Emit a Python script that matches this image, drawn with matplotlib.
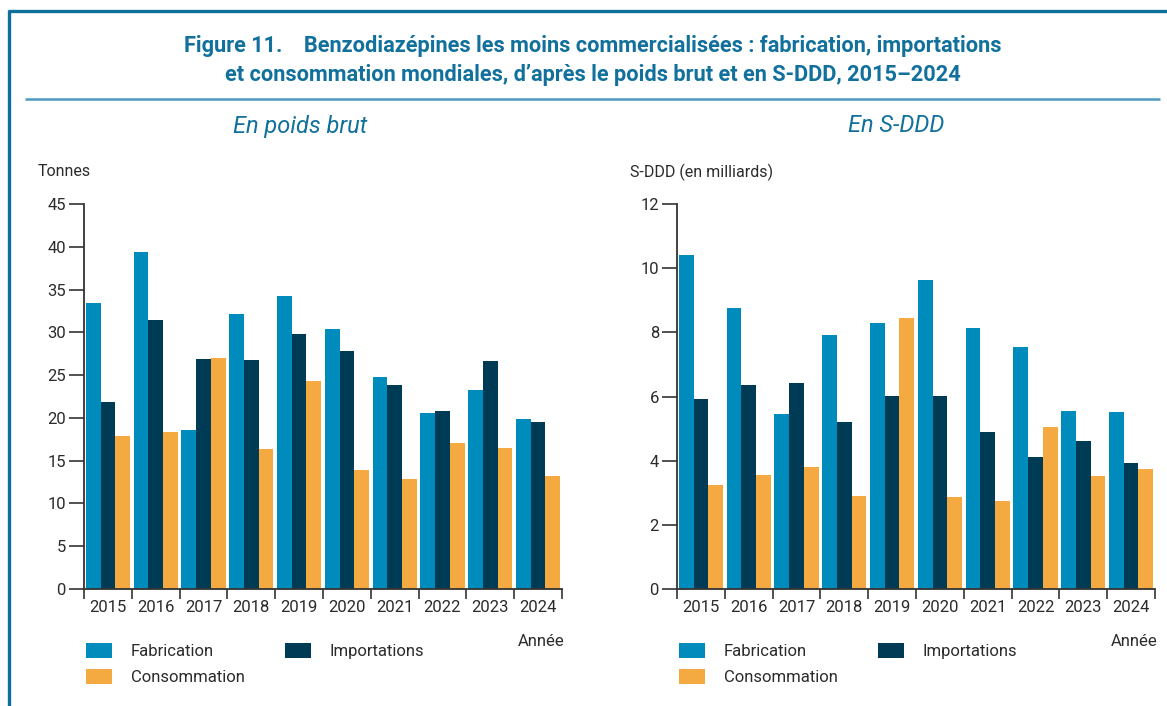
import numpy as np
import matplotlib
matplotlib.use("Agg")
import matplotlib.pyplot as plt
from matplotlib.lines import Line2D

plt.rcParams['font.family'] = ['Roboto', 'DejaVu Sans']

years = ['2015', '2016', '2017', '2018', '2019', '2020', '2021', '2022', '2023', '2024']
series_names = ['Fabrication', 'Importations', 'Consommation']
colors = ['#008bbd', '#003b56', '#f5a941']

# poids brut (tonnes)
fab_tonnes = [33.4, 39.4, 18.6, 32.2, 34.3, 30.4, 24.8, 20.6, 23.3, 19.9]
imp_tonnes = [21.9, 31.5, 26.9, 26.8, 29.8, 27.8, 23.9, 20.8, 26.7, 19.5]
cons_tonnes = [17.9, 18.3, 27.0, 16.4, 24.3, 13.9, 12.8, 17.1, 16.5, 13.2]

# S-DDD (milliards)
fab_sddd = [10.41, 8.76, 5.46, 7.92, 8.29, 9.63, 8.14, 7.55, 5.55, 5.52]
imp_sddd = [5.93, 6.36, 6.43, 5.21, 6.02, 6.02, 4.90, 4.12, 4.62, 3.93]
cons_sddd = [3.25, 3.56, 3.81, 2.91, 8.45, 2.88, 2.75, 5.06, 3.53, 3.75]

blue = '#12719c'
axis_col = '#333333'
text_col = '#2b2b2b'

fig = plt.figure(figsize=(11.67, 7.06), dpi=100)

# frame and title rule
fig.add_artist(Line2D([8 / 1167, 1], [1 - 10.5 / 706] * 2, color='#0e6f9b', lw=2.4,
                      solid_capstyle='butt'))
fig.add_artist(Line2D([8.5 / 1167] * 2, [0, 1 - 10 / 706], color='#0e6f9b', lw=2.4,
                      solid_capstyle='butt'))
fig.add_artist(Line2D([25 / 1167, 1160 / 1167], [1 - 99 / 706] * 2, color='#4b9bc2', lw=1.8,
                      solid_capstyle='butt'))

fig.text(593 / 1167, 1 - 46 / 706,
         "Figure 11.    Benzodiazépines les moins commercialisées : fabrication, importations",
         ha='center', va='center', fontsize=15.7, fontweight='bold', color=blue)
fig.text(593 / 1167, 1 - 75 / 706,
         "et consommation mondiales, d\u2019après le poids brut et en S-DDD, 2015\u20132024",
         ha='center', va='center', fontsize=15.7, fontweight='bold', color=blue)


def draw_panel(x0, vals, ymax, ystep, subtitle, sub_x, ylabel, ylabel_x):
    ax = fig.add_axes([x0 / 1167, 1 - 589 / 706, 478 / 1167, 385 / 706])
    x = np.arange(len(years))
    w = 0.307
    bars = []
    for i, (v, c) in enumerate(zip(vals, colors)):
        bars.append(ax.bar(x + (i - 1) * w, v, width=w, color=c, label=series_names[i], zorder=2))
    ax.set_xlim(-0.5, len(years) - 0.5)
    ax.set_ylim(0, ymax)
    ticks = np.arange(0, ymax + 0.01, ystep)
    ax.set_yticks(ticks)
    ax.set_yticklabels([f"{int(t)}" for t in ticks])
    ax.set_xticks(np.arange(-0.5, len(years)))
    ax.set_xticklabels([])
    ax.set_xticks(x, minor=True)
    ax.set_xticklabels(years, minor=True)
    ax.tick_params(axis='x', which='major', length=7, width=1.2, color=axis_col, direction='out')
    ax.tick_params(axis='x', which='minor', length=0, pad=8, labelsize=12, labelcolor=text_col)
    ax.tick_params(axis='y', length=11, width=1.2, color=axis_col, pad=2, labelsize=12,
                   labelcolor=text_col)
    for s in ['top', 'right']:
        ax.spines[s].set_visible(False)
    for s in ['left', 'bottom']:
        ax.spines[s].set_color(axis_col)
        ax.spines[s].set_linewidth(1.3)
    ax.set_facecolor('none')

    fig.text(sub_x / 1167, 1 - 126 / 706, subtitle, ha='center', va='center',
             fontsize=17, style='italic', color=blue)
    fig.text(ylabel_x / 1167, 1 - 172 / 706, ylabel, ha='left', va='center',
             fontsize=11.5, color=text_col)
    fig.text((x0 + 481) / 1167, 1 - 641 / 706, 'Année', ha='right', va='center',
             fontsize=12, color=text_col)
    # column-wise fill: Fabrication / Consommation in column 1, Importations in column 2
    order = [0, 2, 1]
    ax.legend([bars[i] for i in order], [series_names[i] for i in order],
              ncol=2, loc='upper left', bbox_to_anchor=((x0 + 2) / 1167, 1 - 643 / 706),
              bbox_transform=fig.transFigure, frameon=False, fontsize=12,
              handlelength=1.56, handleheight=1.0, handletextpad=1.14,
              columnspacing=2.4, labelspacing=0.6, borderpad=0, borderaxespad=0,
              labelcolor=text_col)
    return ax


draw_panel(84, [fab_tonnes, imp_tonnes, cons_tonnes], 45, 5, 'En poids brut', 300, 'Tonnes', 38)
draw_panel(677, [fab_sddd, imp_sddd, cons_sddd], 12, 2, 'En S-DDD', 896, 'S-DDD (en milliards)', 630)

fig.savefig('out.png', dpi=100)
